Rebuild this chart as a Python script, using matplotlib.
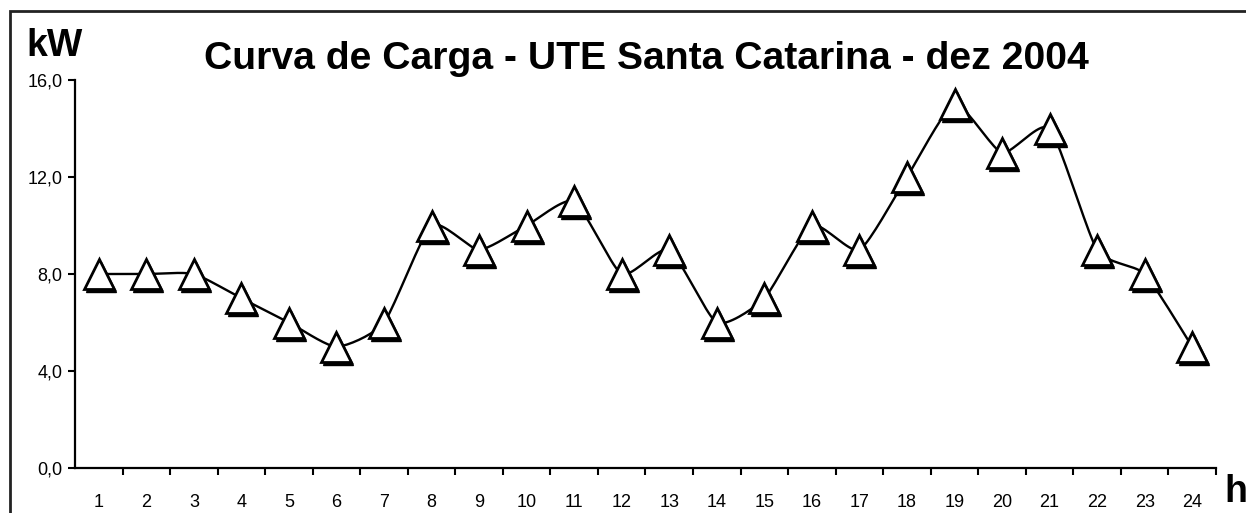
import numpy as np
import matplotlib
matplotlib.use("Agg")
import matplotlib.pyplot as plt
import matplotlib.transforms as mtransforms
from matplotlib.patches import Rectangle

plt.rcParams['font.family'] = ['Liberation Sans', 'DejaVu Sans']

horas = list(range(1, 25))
carga = [8, 8, 8, 7, 6, 5, 6, 10, 9, 10, 11, 8, 9, 6, 7, 10, 9, 12, 15, 13, 14, 9, 8, 5]
y_ticks = [0, 4, 8, 12, 16]
titulo = "Curva de Carga - UTE Santa Catarina - dez 2004"


def suaviza(x, y, n=20):
    # curva suavizada tipo Excel (Catmull-Rom entre os pontos)
    x = np.asarray(x, float)
    y = np.asarray(y, float)
    px = np.concatenate([[x[0]], x, [x[-1]]])
    py = np.concatenate([[y[0]], y, [y[-1]]])
    xs, ys = [], []
    t = np.linspace(0, 1, n)
    for i in range(1, len(px) - 2):
        for p, out in ((px, xs), (py, ys)):
            p0, p1, p2, p3 = p[i - 1], p[i], p[i + 1], p[i + 2]
            m1 = (p2 - p0) / 2 * 0.6
            m2 = (p3 - p1) / 2 * 0.6
            h00 = 2 * t**3 - 3 * t**2 + 1
            h10 = t**3 - 2 * t**2 + t
            h01 = -2 * t**3 + 3 * t**2
            h11 = t**3 - t**2
            out.extend(h00 * p1 + h10 * m1 + h01 * p2 + h11 * m2)
    return xs, ys


fig = plt.figure(figsize=(12.46, 5.13), dpi=100)
ax = fig.add_axes([0.0602, 0.0877, 0.9157, 0.7563])

sx, sy = suaviza(horas, carga)
ax.plot(sx, sy, color='black', lw=1.7, zorder=2)

sombra = mtransforms.offset_copy(ax.transData, fig=fig, x=2, y=-3, units='dots')
ax.plot(horas, carga, ls='none', marker='^', ms=21, color='black',
        mec='black', transform=sombra, zorder=3)
ax.plot(horas, carga, ls='none', marker='^', ms=21, mfc='white',
        mec='black', mew=2, zorder=4)

ax.set_xlim(0.5, 24.5)
ax.set_ylim(0, 16)
ax.set_yticks(y_ticks)
ax.set_yticklabels([f"{v:.1f}".replace('.', ',') for v in y_ticks], fontsize=13)
ax.set_xticks(horas)
ax.set_xticklabels([str(h) for h in horas], fontsize=13)
ax.set_xticks(np.arange(1.5, 25, 1), minor=True)
ax.tick_params(axis='x', which='major', length=0, pad=19)
ax.tick_params(axis='x', which='minor', length=5, width=1.5, direction='out')
ax.tick_params(axis='y', length=5, width=1.5, direction='out', pad=4)
for s in ['top', 'right']:
    ax.spines[s].set_visible(False)
for s in ['left', 'bottom']:
    ax.spines[s].set_linewidth(1.6)

fig.text(0.519, 0.885, titulo, fontsize=28.2, fontweight='bold', ha='center', va='center')
fig.text(0.021, 0.91, "kW", fontsize=27, fontweight='bold', ha='left', va='center')
fig.text(0.983, 0.005, "h", fontsize=27, fontweight='bold', ha='left', va='bottom')

fig.add_artist(Rectangle((10 / 1246, -0.1), 1.2, (513 - 11) / 513 + 0.1,
                         transform=fig.transFigure, fill=False, lw=2, ec='#222222'))

fig.savefig("out.png", dpi=100)
